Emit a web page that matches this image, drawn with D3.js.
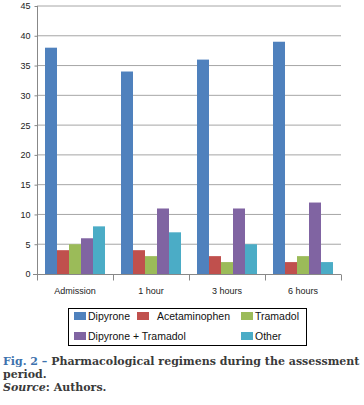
<!DOCTYPE html>
<html>
<head>
<meta charset="utf-8">
<script src="https://cdn.jsdelivr.net/npm/d3@7"></script>
<style>
  body { margin: 0; background: #fff; }
  svg { display: block; }
</style>
</head>
<body>
<div id="chart"></div>
<script>
const categories = ["Admission", "1 hour", "3 hours", "6 hours"];
const seriesNames = ["Dipyrone", "Acetaminophen", "Tramadol", "Dipyrone + Tramadol", "Other"];
const dipyrone = [38, 34, 36, 39];
const acetaminophen = [4, 4, 3, 2];
const tramadol = [5, 3, 2, 3];
const dipyroneTramadol = [6, 11, 11, 12];
const other = [8, 7, 5, 2];
const yTicks = [0, 5, 10, 15, 20, 25, 30, 35, 40, 45];
const colors = ["#4f81bd", "#c0504d", "#9bbb59", "#8064a2", "#4bacc6"];

const allSeries = [dipyrone, acetaminophen, tramadol, dipyroneTramadol, other];

const width = 364, height = 405;
const svg = d3.select("#chart").append("svg")
    .attr("width", width)
    .attr("height", height);

// scales
const x0 = d3.scaleBand().domain(categories).range([37, 341]).paddingInner(0).paddingOuter(0);
const x1 = d3.scaleBand().domain(seriesNames).range([0, x0.bandwidth()]).paddingInner(0).paddingOuter(0.667);
const y = d3.scaleLinear().domain([0, 45]).range([274, 6]);

// gridlines
svg.append("g")
    .selectAll("line")
    .data(yTicks.filter(d => d > 0))
    .enter().append("line")
    .attr("x1", 37).attr("x2", 341)
    .attr("y1", d => y(d)).attr("y2", d => y(d))
    .attr("stroke", "#a6a6a6")
    .attr("stroke-width", 1);

// y axis
const yAxis = svg.append("g")
    .attr("transform", "translate(37.5,0)")
    .call(d3.axisLeft(y).tickValues(yTicks).tickSize(3).tickPadding(4));
yAxis.select(".domain").attr("stroke", "#888").attr("d", `M0,${y(45)}V${y(0)}`);
yAxis.selectAll(".tick line").attr("stroke", "#888");
yAxis.selectAll("text")
    .attr("font-family", "Liberation Sans, Arial, sans-serif")
    .attr("font-size", "9px")
    .attr("fill", "#222");

// bars
const groups = svg.append("g")
    .selectAll("g")
    .data(categories)
    .enter().append("g")
    .attr("transform", d => `translate(${x0(d)},0)`);

groups.selectAll("rect")
    .data((c, i) => seriesNames.map((s, j) => ({ s, v: allSeries[j][i], j })))
    .enter().append("rect")
    .attr("x", d => x1(d.s))
    .attr("width", x1.bandwidth())
    .attr("y", d => y(d.v))
    .attr("height", d => y(0) - y(d.v))
    .attr("fill", d => colors[d.j]);

// x axis
const xAxisG = svg.append("g").attr("transform", `translate(0,${y(0) + 0.5})`);
xAxisG.append("line")
    .attr("x1", 33).attr("x2", 341)
    .attr("stroke", "#888");
xAxisG.selectAll(".bound")
    .data(categories.map(c => x0(c)).concat([x0(categories[categories.length - 1]) + x0.bandwidth()]))
    .enter().append("line")
    .attr("x1", d => Math.round(d) + 0.5).attr("x2", d => Math.round(d) + 0.5)
    .attr("y1", 0).attr("y2", 6)
    .attr("stroke", "#888");
xAxisG.selectAll("text")
    .data(categories)
    .enter().append("text")
    .attr("x", d => x0(d) + x0.bandwidth() / 2)
    .attr("y", 19)
    .attr("text-anchor", "middle")
    .attr("font-family", "Liberation Sans, Arial, sans-serif")
    .attr("font-size", "9px")
    .attr("fill", "#222")
    .text(d => d);

// legend
const legend = svg.append("g");
legend.append("rect")
    .attr("x", 68.5).attr("y", 308.5)
    .attr("width", 238).attr("height", 37)
    .attr("fill", "none")
    .attr("stroke", "#000");

const legendPos = [[74, 316], [137, 316], [241, 316], [74, 336], [241, 336]];
const textOffset = [14, 20, 14, 14, 14];
seriesNames.forEach((s, i) => {
    const [lx, ly] = legendPos[i];
    legend.append("rect")
        .attr("x", lx).attr("y", ly - 4)
        .attr("width", 12).attr("height", 8)
        .attr("fill", colors[i]);
    legend.append("text")
        .attr("x", lx + textOffset[i]).attr("y", ly + 3.5)
        .attr("font-family", "Liberation Sans, Arial, sans-serif")
        .attr("font-size", "10.5px")
        .attr("fill", "#111")
        .text(s);
});

// caption
const cap = svg.append("g")
    .attr("font-family", "DejaVu Serif, serif")
    .attr("font-size", "11px")
    .attr("font-weight", "bold")
    .attr("fill", "#3a3a3a");
const line1 = cap.append("text").attr("x", 3).attr("y", 365);
line1.append("tspan").attr("fill", "#3d72ad").text("Fig. 2 – ");
line1.append("tspan").text("Pharmacological regimens during the assessment");
cap.append("text").attr("x", 3).attr("y", 378).text("period.");
const line3 = cap.append("text").attr("x", 3).attr("y", 391);
line3.append("tspan").attr("font-style", "italic").text("Source");
line3.append("tspan").text(": Authors.");
</script>
</body>
</html>
